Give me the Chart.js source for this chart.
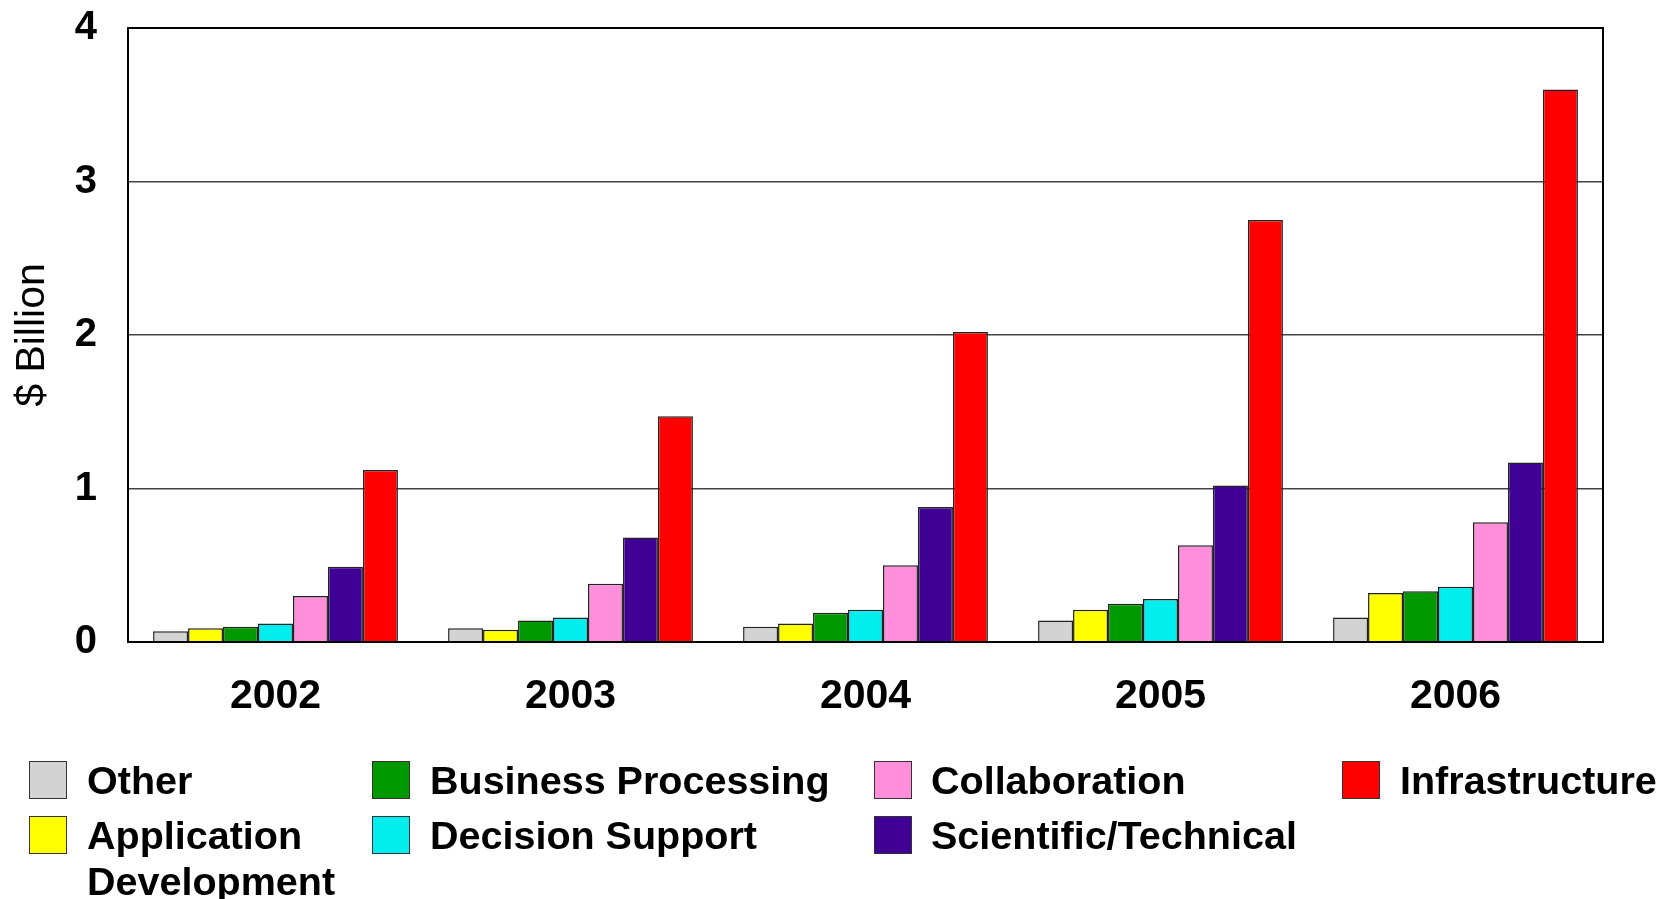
<!DOCTYPE html>
<html>
<head>
  <title>$ Billion por categoría</title>
  <script src="https://cdn.jsdelivr.net/npm/chart.js"></script>
  <style>
    html, body {
      margin: 0;
      padding: 0;
      background: #ffffff;
      overflow: hidden;
    }

    .lienzo {
      position: relative;
      width: 1661px;
      height: 899px;
      overflow: hidden;
      font-family: 'Liberation Sans', Arial, sans-serif;
    }

    .grafico {
      position: absolute;
      left: 0;
      top: -27px; /* el eje reserva espacio extra arriba, lo compensamos */
      width: 1661px;
      height: 787px;
    }

    .leyenda-item {
      position: absolute;
      font-weight: bold;
      font-size: 39.5px;
      line-height: 46px;
      color: #000;
    }

    .leyenda-caja {
      position: absolute;
      top: 4px;
      width: 36px;
      height: 36px;
      border: 1px solid #333;
    }

    .leyenda-texto {
      position: absolute;
      top: 0;
      white-space: nowrap;
    }
  </style>
</head>
<body>

  <div class="lienzo">
    <div class="grafico"><canvas id="barras"></canvas></div>
    <div id="leyenda"></div>
  </div>

  <script>

    // Datos
    var anios = ['2002', '2003', '2004', '2005', '2006'];
    var categorias = ['Other', 'Application Development', 'Business Processing', 'Decision Support',
                      'Collaboration', 'Scientific/Technical', 'Infrastructure'];
    var colores = ['#d3d3d3', '#ffff00', '#009900', '#00eeee', '#ff8fdb', '#400096', '#ff0000'];

    var other = [0.07, 0.09, 0.10, 0.14, 0.16];
    var appDev = [0.09, 0.08, 0.12, 0.21, 0.32];
    var businessProc = [0.10, 0.14, 0.19, 0.25, 0.33];
    var decisionSupport = [0.12, 0.16, 0.21, 0.28, 0.36];
    var collaboration = [0.30, 0.38, 0.50, 0.63, 0.78];
    var scientific = [0.49, 0.68, 0.88, 1.02, 1.17];
    var infrastructure = [1.12, 1.47, 2.02, 2.75, 3.60];

    var yTicks = [0, 1, 2, 3, 4];

    var series = [other, appDev, businessProc, decisionSupport, collaboration, scientific, infrastructure];

    var datasets = series.map(function (valores, i) {
      return {
        label: categorias[i],
        data: valores,
        backgroundColor: colores[i],
        borderColor: '#222222',
        borderWidth: 1.5
      };
    });

    // marco completo alrededor del área del gráfico
    var marco = {
      id: 'marco',
      afterDraw: function (chart) {
        var a = chart.chartArea;
        var c = chart.ctx;
        c.save();
        c.strokeStyle = '#000';
        c.lineWidth = 2;
        c.strokeRect(a.left, a.top, a.right - a.left, a.bottom - a.top);
        c.restore();
      }
    };

    var ctx = document.getElementById('barras').getContext('2d');
    var myChart = new Chart(ctx, {
      type: 'bar',
      data: {
        labels: anios,
        datasets: datasets
      },
      plugins: [marco],
      options: {
        responsive: true,
        maintainAspectRatio: false,
        animation: false,
        layout: {
          padding: { top: 0, right: 58, left: 0, bottom: 0 }
        },
        datasets: {
          bar: {
            categoryPercentage: 0.83,
            barPercentage: 1.0
          }
        },
        scales: {
          y: {
            min: 0,
            max: 4,
            afterBuildTicks: function (s) {
              s.ticks = yTicks.map(function (v) { return { value: v }; });
            },
            afterFit: function (s) { s.width = 128; },
            ticks: {
              color: '#000',
              padding: 31,
              font: { family: 'Liberation Sans', size: 40, weight: 'bold' }
            },
            grid: {
              color: '#444444',
              lineWidth: 1.5,
              drawTicks: false
            },
            border: { display: true, color: '#000', width: 2 },
            title: {
              display: true,
              text: '$ Billion',
              color: '#000',
              padding: { top: 8, bottom: 0 },
              font: { family: 'Liberation Sans', size: 41, weight: 'normal' }
            }
          },
          x: {
            afterFit: function (s) { s.height = 118; },
            ticks: {
              color: '#000',
              padding: 30,
              maxRotation: 0,
              minRotation: 0,
              font: { family: 'Liberation Sans', size: 41, weight: 'bold' }
            },
            grid: { display: false, drawTicks: false },
            border: { display: true, color: '#000', width: 2 }
          }
        },
        plugins: {
          legend: { display: false },
          tooltip: { enabled: false }
        }
      }
    });

    // leyenda en columnas, como en el original
    var posLeyenda = [
      { x: 29, y: 757, textoX: 58, texto: 'Other' },
      { x: 29, y: 812, textoX: 58, texto: 'Application<br>Development' },
      { x: 372, y: 757, textoX: 58, texto: 'Business Processing' },
      { x: 372, y: 812, textoX: 58, texto: 'Decision Support' },
      { x: 874, y: 757, textoX: 57, texto: 'Collaboration' },
      { x: 874, y: 812, textoX: 57, texto: 'Scientific/Technical' },
      { x: 1342, y: 757, textoX: 58, texto: 'Infrastructure' }
    ];

    var leyenda = document.getElementById('leyenda');
    posLeyenda.forEach(function (p, i) {
      var item = document.createElement('div');
      item.className = 'leyenda-item';
      item.style.left = p.x + 'px';
      item.style.top = p.y + 'px';
      item.innerHTML = '<div class="leyenda-caja" style="background:' + colores[i] + '"></div>' +
                       '<div class="leyenda-texto" style="left:' + p.textoX + 'px">' + p.texto + '</div>';
      leyenda.appendChild(item);
    });

  </script>
</body>
</html>
